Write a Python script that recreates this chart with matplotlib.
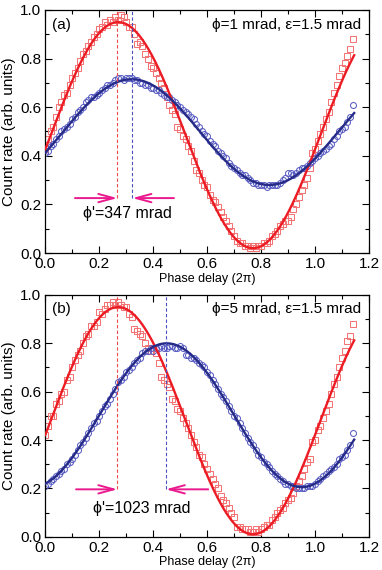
#!/usr/bin/env python3
"""
Phase-delay scans for two phi settings: count rate vs phase delay,
measured points with cosine fits and the peak shift between the two traces.
"""

import matplotlib
matplotlib.use('Agg')
import matplotlib.pyplot as plt
from matplotlib.ticker import MultipleLocator
import numpy as np

plt.rcParams['font.family'] = ['Liberation Sans', 'DejaVu Sans']

# ---- data -----------------------------------------------------------------
# phase delay grid (units of 2 pi), 0.00 ... 1.14 in steps of 0.01
N_POINTS = 115
PHASE_END = 1.14

# panel (a): phi = 1 mrad
red_a = [
    0.43, 0.47, 0.50, 0.52, 0.56, 0.60, 0.62, 0.65, 0.66, 0.69,
    0.72, 0.74, 0.76, 0.79, 0.82, 0.83, 0.85, 0.87, 0.89, 0.90,
    0.92, 0.93, 0.95, 0.94, 0.96, 0.95, 0.97, 0.96, 0.98, 0.97,
    0.95, 0.93, 0.93, 0.90, 0.86, 0.87, 0.85, 0.82, 0.80, 0.77,
    0.76, 0.74, 0.72, 0.70, 0.68, 0.64, 0.61, 0.59, 0.57, 0.52,
    0.51, 0.48, 0.47, 0.44, 0.42, 0.38, 0.34, 0.33, 0.30, 0.28,
    0.27, 0.24, 0.22, 0.21, 0.19, 0.17, 0.15, 0.13, 0.11, 0.09,
    0.07, 0.05, 0.04, 0.04, 0.03, 0.03, 0.02, 0.03, 0.02, 0.03,
    0.03, 0.04, 0.04, 0.05, 0.07, 0.08, 0.09, 0.11, 0.12, 0.13,
    0.13, 0.15, 0.18, 0.20, 0.23, 0.26, 0.28, 0.31, 0.35, 0.41,
    0.43, 0.46, 0.49, 0.52, 0.55, 0.58, 0.62, 0.66, 0.69, 0.73,
    0.76, 0.78, 0.81, 0.84, 0.88,
]
blue_a = [
    0.41, 0.42, 0.44, 0.45, 0.47, 0.48, 0.50, 0.51, 0.52, 0.53,
    0.55, 0.56, 0.58, 0.59, 0.60, 0.62, 0.63, 0.64, 0.64, 0.65,
    0.66, 0.67, 0.68, 0.69, 0.69, 0.70, 0.71, 0.72, 0.72, 0.71,
    0.72, 0.72, 0.72, 0.71, 0.71, 0.70, 0.70, 0.69, 0.69, 0.68,
    0.68, 0.67, 0.67, 0.66, 0.65, 0.64, 0.64, 0.63, 0.62, 0.61,
    0.60, 0.59, 0.58, 0.57, 0.56, 0.55, 0.53, 0.52, 0.50, 0.49,
    0.48, 0.46, 0.45, 0.44, 0.42, 0.41, 0.40, 0.39, 0.37, 0.36,
    0.35, 0.34, 0.33, 0.32, 0.32, 0.31, 0.30, 0.29, 0.29, 0.28,
    0.28, 0.28, 0.27, 0.28, 0.28, 0.28, 0.28, 0.29, 0.30, 0.31,
    0.33, 0.33, 0.32, 0.33, 0.34, 0.35, 0.35, 0.36, 0.37, 0.38,
    0.39, 0.40, 0.41, 0.42, 0.43, 0.44, 0.45, 0.47, 0.48, 0.50,
    0.51, 0.52, 0.54, 0.56, 0.61,
]

# panel (b): phi = 5 mrad
red_b = [
    0.42, 0.46, 0.50, 0.50, 0.55, 0.56, 0.59, 0.60, 0.65, 0.66,
    0.70, 0.73, 0.75, 0.77, 0.80, 0.83, 0.84, 0.87, 0.87, 0.89,
    0.93, 0.92, 0.94, 0.96, 0.96, 0.97, 0.96, 0.97, 0.96, 0.95,
    0.95, 0.92, 0.91, 0.86, 0.85, 0.84, 0.83, 0.80, 0.78, 0.77,
    0.78, 0.76, 0.72, 0.66, 0.65, 0.63, 0.62, 0.57, 0.56, 0.53,
    0.52, 0.49, 0.47, 0.45, 0.42, 0.39, 0.37, 0.34, 0.33, 0.30,
    0.28, 0.26, 0.24, 0.22, 0.20, 0.17, 0.15, 0.14, 0.12, 0.10,
    0.08, 0.04, 0.04, 0.03, 0.03, 0.03, 0.02, 0.02, 0.03, 0.02,
    0.03, 0.04, 0.05, 0.05, 0.07, 0.08, 0.10, 0.11, 0.12, 0.14,
    0.15, 0.16, 0.18, 0.21, 0.23, 0.25, 0.28, 0.31, 0.32, 0.39,
    0.40, 0.44, 0.46, 0.49, 0.52, 0.55, 0.59, 0.63, 0.66, 0.70,
    0.74, 0.77, 0.81, 0.83, 0.88,
]
blue_b = [
    0.21, 0.22, 0.23, 0.24, 0.25, 0.26, 0.27, 0.28, 0.30, 0.31,
    0.32, 0.34, 0.36, 0.38, 0.39, 0.41, 0.43, 0.45, 0.47, 0.48,
    0.50, 0.52, 0.54, 0.55, 0.57, 0.59, 0.61, 0.64, 0.65, 0.66,
    0.68, 0.69, 0.70, 0.72, 0.73, 0.74, 0.76, 0.77, 0.77, 0.78,
    0.77, 0.78, 0.78, 0.79, 0.78, 0.78, 0.79, 0.79, 0.78, 0.78,
    0.79, 0.78, 0.75, 0.75, 0.74, 0.74, 0.73, 0.72, 0.71, 0.70,
    0.68, 0.67, 0.65, 0.63, 0.61, 0.59, 0.58, 0.56, 0.54, 0.52,
    0.50, 0.49, 0.47, 0.45, 0.43, 0.41, 0.39, 0.38, 0.36, 0.34,
    0.33, 0.31, 0.30, 0.29, 0.27, 0.26, 0.25, 0.24, 0.23, 0.22,
    0.22, 0.21, 0.21, 0.20, 0.20, 0.20, 0.20, 0.21, 0.21, 0.21,
    0.22, 0.23, 0.24, 0.25, 0.26, 0.27, 0.28, 0.29, 0.30, 0.32,
    0.33, 0.34, 0.36, 0.38, 0.43,
]

# cosine fits: (offset, amplitude, peak position, period)
fit_red_a = (0.485, 0.465, 0.27, 1.00)
fit_blue_a = (0.4975, 0.2175, 0.32, 1.02)
fit_red_b = (0.48, 0.47, 0.27, 1.00)
fit_blue_b = (0.5025, 0.2975, 0.45, 1.00)
FIT_END = 1.145

# fringe peak markers and shift labels
peaks_a = (0.267, 0.323)
peaks_b = (0.267, 0.447)
labels_panel = ['(a)', '(b)']
labels_params = ['\u03d5=1 mrad, \u03b5=1.5 mrad', '\u03d5=5 mrad, \u03b5=1.5 mrad']
labels_shift = ["\u03d5'=347 mrad", "\u03d5'=1023 mrad"]

# ---- styling ----------------------------------------------------------------
RED_LINE = '#ec1c24'
RED_MARK = '#f27474'
RED_DASH = '#f04848'
BLUE_LINE = '#262b88'
BLUE_MARK = '#5a5ec2'
BLUE_DASH = '#4a4fc0'
MAGENTA = '#ea1a8e'


def cosine_fit(params, x):
    """Evaluate a cosine fit with (offset, amplitude, peak, period)."""
    off, amp, peak, period = params
    return off + amp * np.cos(2 * np.pi * (x - peak) / period)


def style_axes(ax):
    """Origin-like axes: inward ticks on all sides, minor ticks at 0.1."""
    ax.set_xlim(0, 1.2)
    ax.set_ylim(0, 1.0)
    ax.xaxis.set_major_locator(MultipleLocator(0.2))
    ax.xaxis.set_minor_locator(MultipleLocator(0.1))
    ax.yaxis.set_major_locator(MultipleLocator(0.2))
    ax.yaxis.set_minor_locator(MultipleLocator(0.1))
    ax.xaxis.set_major_formatter(plt.FuncFormatter(lambda v, p: f'{v:.1f}'))
    ax.yaxis.set_major_formatter(plt.FuncFormatter(lambda v, p: f'{v:.1f}'))
    ax.tick_params(which='both', direction='in', top=True, right=True,
                   labelsize=11, width=0.8, pad=3)
    ax.tick_params(which='major', length=5)
    ax.tick_params(which='minor', length=3)
    for sp in ax.spines.values():
        sp.set_linewidth(0.9)
    ax.set_xlabel('Phase delay (2\u03c0)', fontsize=9, labelpad=1)
    ax.set_ylabel('Count rate (arb. units)', fontsize=11, labelpad=3)


def draw_panel(ax, x, red, blue, fit_red, fit_blue, peaks, arrow_y,
               arrow_ends, label, params, shift, shift_pos):
    xf = np.linspace(0, FIT_END, 400)

    ax.plot(x, red, ls='none', marker='s', ms=4.0, mfc='none',
            mec=RED_MARK, mew=0.75, zorder=2)
    ax.plot(x, blue, ls='none', marker='o', ms=4.3, mfc='none',
            mec=BLUE_MARK, mew=0.75, zorder=2)
    ax.plot(xf, cosine_fit(fit_red, xf), color=RED_LINE, lw=1.7, zorder=3)
    ax.plot(xf, cosine_fit(fit_blue, xf), color=BLUE_LINE, lw=1.7, zorder=3)

    # vertical dashed lines at the two maxima
    ax.plot([peaks[0], peaks[0]], [arrow_y, 1.0], ls=(0, (3, 2)),
            color=RED_DASH, lw=0.8, zorder=4)
    ax.plot([peaks[1], peaks[1]], [arrow_y, 1.0], ls=(0, (3, 2)),
            color=BLUE_DASH, lw=0.8, zorder=4)

    # magenta arrows pointing at the peak markers
    aprops = dict(arrowstyle='->,head_length=1.1,head_width=0.3',
                  color=MAGENTA, lw=1.4, shrinkA=0, shrinkB=0)
    ax.annotate('', xy=(peaks[0], arrow_y), xytext=(arrow_ends[0], arrow_y),
                arrowprops=aprops)
    ax.annotate('', xy=(peaks[1], arrow_y), xytext=(arrow_ends[1], arrow_y),
                arrowprops=aprops)

    ax.text(0.023, 0.94, label, fontsize=11, ha='left', va='center')
    ax.text(1.172, 0.94, params, fontsize=11, ha='right', va='center')
    ax.text(shift_pos[0], shift_pos[1], shift, fontsize=11.5,
            ha='left', va='center')
    style_axes(ax)


fig = plt.figure(figsize=(3.82, 5.70), dpi=100)
ax_a = fig.add_axes([0.1186, 0.5561, 0.8474, 0.4264])
ax_b = fig.add_axes([0.1186, 0.0584, 0.8474, 0.4241])

phase = np.linspace(0, PHASE_END, N_POINTS)

draw_panel(ax_a, phase, red_a, blue_a, fit_red_a, fit_blue_a, peaks_a,
           0.226, (0.11, 0.477), labels_panel[0], labels_params[0],
           labels_shift[0], (0.14, 0.164))
draw_panel(ax_b, phase, red_b, blue_b, fit_red_b, fit_blue_b, peaks_b,
           0.196, (0.114, 0.604), labels_panel[1], labels_params[1],
           labels_shift[1], (0.178, 0.117))

fig.savefig('out.png', dpi=100, facecolor='white')
